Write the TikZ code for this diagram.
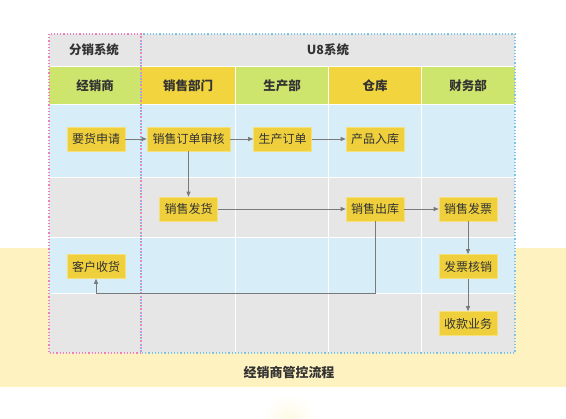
\documentclass[tikz,border=0pt]{standalone}
\usepackage{fontspec}
\setmainfont{Noto Sans CJK SC}
\usetikzlibrary{arrows.meta}
\definecolor{band}{HTML}{FEF3C0}
\definecolor{hgray}{HTML}{E6E6E6}
\definecolor{lblue}{HTML}{D7EDF8}
\definecolor{hgreen}{HTML}{CEE56D}
\definecolor{hyellow}{HTML}{F1D43E}
\definecolor{bfill}{HTML}{EFD03C}
\definecolor{bedge}{HTML}{F6E07A}
\definecolor{lnk}{HTML}{7A7A7A}
\definecolor{pinkdot}{HTML}{EE7FC0}
\definecolor{bluedot}{HTML}{7FC4E8}
\definecolor{txt}{HTML}{333333}
\tikzset{
  stepbox/.style={draw=bedge, line width=0.6pt, fill=bfill, minimum width=58pt, minimum height=24pt, inner sep=1pt, font=\fontsize{12}{13}\selectfont, text=txt},
  hdr/.style={font=\bfseries\fontsize{12.5}{13}\selectfont, text=txt},
  flow/.style={draw=lnk, line width=0.8pt, -{Triangle[length=5pt,width=4pt]}},
  cell/.style={draw=white, line width=1pt}
}
\begin{document}
\begin{tikzpicture}[x=1pt,y=-1pt]
\useasboundingbox (0,0) rectangle (566,419);
\fill[white] (0,0) rectangle (566,419);
% faint flower hint
\shade[inner color=band!45, outer color=white] (289,422) circle (28);
% yellow band
\fill[band] (0,248) rectangle (566,387);
% header row 1
\fill[hgray] (49,34) rectangle (515,67);
% header row 2
\fill[hgreen] (49,67) rectangle (141,105);
\fill[hyellow] (141,67) rectangle (235,105);
\fill[hgreen] (235,67) rectangle (328,105);
\fill[hyellow] (328,67) rectangle (421,105);
\fill[hgreen] (421,67) rectangle (515,105);
% lanes
\fill[lblue] (49,105) rectangle (515,178);
\fill[hgray] (49,178) rectangle (515,238);
\fill[lblue] (49,238) rectangle (515,294);
\fill[hgray] (49,294) rectangle (515,353);
% white grid lines
\draw[cell] (49,67) -- (515,67);
\draw[cell] (49,105) -- (515,105);
\draw[cell] (49,178) -- (515,178);
\draw[cell] (49,238) -- (515,238);
\draw[cell] (49,294) -- (515,294);
\draw[cell] (235,67) -- (235,353);
\draw[cell] (328,67) -- (328,353);
\draw[cell] (421,67) -- (421,353);
% dotted borders
\draw[bluedot, line width=1.2pt, dash pattern=on 1.2pt off 2pt] (141,34) rectangle (515,353);
\draw[pinkdot, line width=1.2pt, dash pattern=on 1.2pt off 2pt] (49,34) rectangle (141,353);
% headers
\node[hdr] (hfx) at (94,50) {分销系统};
\node[hdr] (hu8) at (328,50) {U8系统};
\node[hdr] (hjxs) at (95,86) {经销商};
\node[hdr] (hxs) at (188,86) {销售部门};
\node[hdr] (hsc) at (282,86) {生产部};
\node[hdr] (hck) at (375,86) {仓库};
\node[hdr] (hcw) at (468,86) {财务部};
% boxes
\node[stepbox] (yhsq) at (96,139) {要货申请};
\node[stepbox, minimum width=83pt] (ddsh) at (188.5,139) {销售订单审核};
\node[stepbox] (scdd) at (282.5,139) {生产订单};
\node[stepbox] (cprk) at (375,139) {产品入库};
\node[stepbox] (xsfh) at (188.5,209) {销售发货};
\node[stepbox] (xsck) at (375,209) {销售出库};
\node[stepbox] (xsfp) at (468,209) {销售发票};
\node[stepbox] (khsh) at (96,266.5) {客户收货};
\node[stepbox] (fphx) at (468,266.5) {发票核销};
\node[stepbox] (skyw) at (468,323.5) {收款业务};
% connectors
\draw[flow] (yhsq) -- (ddsh);
\draw[flow] (ddsh) -- (scdd);
\draw[flow] (scdd) -- (cprk);
\draw[flow] (ddsh) -- (xsfh);
\draw[flow] (xsfh) -- (xsck);
\draw[flow] (xsck) -- (xsfp);
\draw[flow] (xsfp) -- (fphx);
\draw[flow] (fphx) -- (skyw);
\coordinate (c1) at (375,293);
\draw[flow] (xsck.south) -- (c1) -| (khsh.south);
% title
\node[font=\bfseries\fontsize{13}{14}\selectfont, text=txt] (title) at (289,373) {经销商管控流程};
\end{tikzpicture}
\end{document}
